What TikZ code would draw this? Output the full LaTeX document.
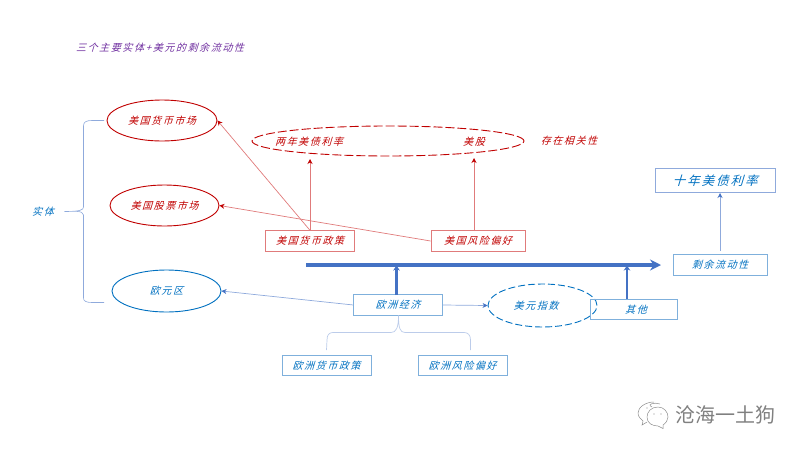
\documentclass[tikz,border=0pt]{standalone}
\usepackage{fontspec}
\usetikzlibrary{shapes.geometric,arrows.meta}
\newfontfamily\cjk[FakeSlant=0.3,LetterSpace=16]{Noto Sans CJK SC}
\newfontfamily\cjkplain{Noto Sans CJK SC}
\definecolor{dred}{HTML}{C00000}
\definecolor{dblue}{HTML}{0070C0}
\definecolor{mblue}{HTML}{4472C4}
\definecolor{lred}{HTML}{E07B7B}
\definecolor{lblue}{HTML}{8FAADC}
\definecolor{bbox}{HTML}{7FB0DC}
\definecolor{purp}{HTML}{7030A0}
\tikzset{
  lab/.style={inner sep=0pt,font=\cjk\fontsize{10}{12}\selectfont},
  redlab/.style={lab,text=dred},
  bluelab/.style={lab,text=dblue},
  redell/.style={ellipse,draw=dred,line width=0.9pt,inner sep=0pt,redlab},
  blueell/.style={ellipse,draw=dblue,line width=0.9pt,inner sep=0pt,bluelab},
  redbox/.style={rectangle,draw=lred,line width=0.8pt,inner sep=0pt,redlab},
  bluebox/.style={rectangle,draw=bbox,line width=0.8pt,inner sep=0pt,bluelab},
  redarr/.style={draw=lred,line width=0.7pt,-{Stealth[length=5pt,width=5pt,color=dred]}},
  bluearr/.style={draw=lblue,line width=0.7pt,-{Stealth[length=5pt,width=5pt,color=mblue]}},
  thickarr/.style={draw=mblue,line width=2.4pt,-{Stealth[length=5pt,width=6.5pt]}},
  mainarr/.style={draw=mblue,line width=3.4pt,-{Stealth[length=11pt,width=11pt]}},
  bracel/.style={draw=lblue,line width=0.6pt},
  bracelight/.style={draw=lblue!60,line width=0.7pt}
}
\begin{document}
\begin{tikzpicture}[x=1pt,y=-1pt]
\useasboundingbox (0,0) rectangle (800,450);
\node[lab,text=purp] (title) at (160,48) {三个主要实体+美元的剩余流动性};
% ellipses
\node[redell,minimum width=110pt,minimum height=41pt] (usm) at (162,120.5) {美国货币市场};
\node[redell,minimum width=109pt,minimum height=41pt] (use) at (164.5,205.5) {美国股票市场};
\node[blueell,minimum width=109pt,minimum height=42pt] (ez) at (166.5,291) {欧元区};
\node[ellipse,draw=dred,line width=0.9pt,dash pattern=on 9pt off 3pt,minimum width=272pt,minimum height=30pt,inner sep=0pt] (corr) at (388,141) {};
\node[redlab] (t2) at (309,142) {两年美债利率};
\node[redlab] (stk) at (474,142) {美股};
\node[redlab] (cor) at (569,141) {存在相关性};
% boxes
\node[redbox,minimum width=89pt,minimum height=20.5pt] (mp) at (310,241) {美国货币政策};
\node[redbox,minimum width=94pt,minimum height=20.5pt] (rp) at (478,241) {美国风险偏好};
\node[bluebox,minimum width=88.5pt,minimum height=20.5pt] (eu) at (398,305) {欧洲经济};
\node[ellipse,draw=dblue,line width=0.9pt,dash pattern=on 7pt off 3pt,minimum width=109pt,minimum height=43pt,inner sep=0pt] (dxy) at (542.5,305.5) {};
\node[bluelab] (dxyl) at (536,306) {美元指数};
\node[bluebox,minimum width=87pt,minimum height=20.5pt] (oth) at (633.5,309.5) {};
\node[bluelab] (othl) at (636,310) {其他};
\node[bluebox,minimum width=94pt,minimum height=20.5pt] (liq) at (720,265) {剩余流动性};
\node[rectangle,draw=lblue,line width=0.8pt,inner sep=0pt,text=dblue,font=\cjk\fontsize{12.5}{14}\selectfont,minimum width=120pt,minimum height=24pt] (ten) at (715,180.5) {十年美债利率};
\node[bluebox,minimum width=89pt,minimum height=20.5pt] (emp) at (326.5,365.5) {欧洲货币政策};
\node[bluebox,minimum width=89pt,minimum height=20.5pt] (erp) at (462.5,365.5) {欧洲风险偏好};
\node[bluelab] (ent) at (43,212) {实体};
% anchor points
\coordinate (a1) at (310,159);
\coordinate (a2) at (474,158);
\coordinate (b0) at (306,265);
\coordinate (b1) at (661,265);
\coordinate (c1) at (396.5,265.5);
\coordinate (c0) at (396.5,295);
\coordinate (d1) at (627,265.5);
\coordinate (d0) at (627,299);
\coordinate (e0) at (720,251);
\coordinate (e1) at (720,193);
\coordinate (r0) at (474,231);
% connectors
\draw[redarr] (mp.north) -- (usm.east);
\draw[redarr] (rp.west) -- (use.east);
\draw[redarr] (mp.north) -- (a1);
\draw[redarr] (r0) -- (a2);
\draw[bluearr] (eu.west) -- (ez.east);
\draw[bluearr] (eu.east) -- (dxy.west);
\draw[bluearr] (e0) -- (e1);
\draw[mainarr] (b0) -- (b1);
\draw[thickarr] (c0) -- (c1);
\draw[thickarr] (d0) -- (d1);
% large brace
\coordinate (bt) at (104,120.5);
\coordinate (bb) at (104,302.5);
\coordinate (bm) at (64.5,211.5);
\draw[bracel] (bt) -- (92,120.5) .. controls (86,120.5) and (83.5,122) .. (83.5,126) -- (83.5,207) .. controls (83.5,210) and (80,211.5) .. (bm)
  .. controls (72,211.5) and (83.5,210) .. (83.5,215) -- (83.5,298) .. controls (83.5,301) and (86,302.5) .. (92,302.5) -- (bb);
% lower brace
\coordinate (lb0) at (398.5,315.5);
\coordinate (lb1) at (326.5,350);
\coordinate (lb2) at (470.5,350);
\draw[bracelight] (lb1) -- (327,340) .. controls (327,335) and (329,332.5) .. (333,332.5) -- (391,332.5) .. controls (396,332.5) and (398.5,328) .. (lb0)
  .. controls (398.5,328) and (400,332.5) .. (405,332.5) -- (464,332.5) .. controls (468,332.5) and (470.5,335) .. (470.5,340) -- (lb2);
% watermark
\begin{scope}[draw=black!45,line width=0.5pt]
\draw (654,402) .. controls (646,402) and (638,407) .. (638,413) .. controls (638,417) and (641,419) .. (643,421) -- (642,425) -- (647,422);
\draw (652,407) .. controls (646,404) and (655,402) .. (660,404);
\draw (658,407) .. controls (651,407) and (647,412) .. (647,417) .. controls (647,423) and (652,426) .. (658,426) -- (663,428.5) -- (663,425) .. controls (666,423) and (668,420) .. (668,417) .. controls (668,412) and (664,407) .. (658,407);
\fill[black!45] (654,414) circle (0.7pt) (661,414) circle (0.7pt) (647,408) circle (0.6pt);
\end{scope}
\node[inner sep=0pt,text=black!50,font=\cjkplain\fontsize{20}{22}\selectfont] (wm) at (725.5,415) {沧海一土狗};
\end{tikzpicture}
\end{document}
